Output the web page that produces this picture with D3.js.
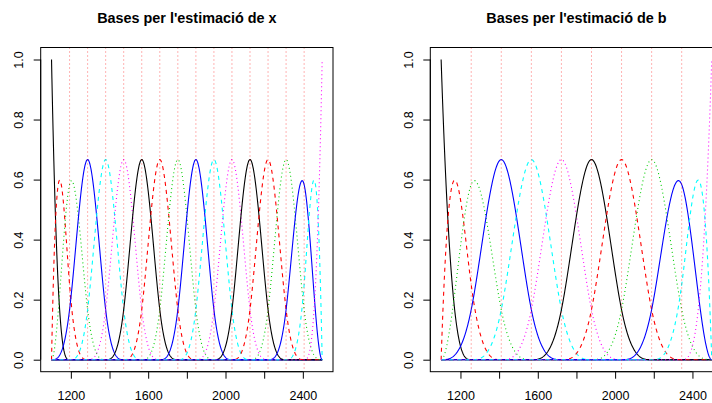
<!DOCTYPE html>
<html>
<head>
<meta charset="utf-8">
<script src="https://cdn.jsdelivr.net/npm/d3@7"></script>
<style>
  html, body { margin: 0; padding: 0; background: #fff; }
  svg { display: block; font-family: "Liberation Sans", Arial, sans-serif; }
</style>
</head>
<body>
<svg id="chart" width="712" height="403"></svg>
<script>
// Domain of the covariate (boundary knots)
const boundary = [1100, 2500];

// Interior knots of the cubic B-spline basis used for x
const knotsX = [1193.3, 1286.7, 1380.0, 1473.3, 1566.7, 1660.0, 1753.3,
                1846.7, 1940.0, 2033.3, 2126.7, 2220.0, 2313.3, 2406.7];

// Interior knots of the cubic B-spline basis used for b
const knotsB = [1255.6, 1411.1, 1566.7, 1722.2, 1877.8, 2033.3, 2188.9, 2344.4];

const panelTitles = ["Bases per l'estimació de x", "Bases per l'estimació de b"];

const xTicks = [1200, 1400, 1600, 1800, 2000, 2200, 2400];
const xTickLabels = ["1200", "", "1600", "", "2000", "", "2400"];
const yTicks = [0, 0.2, 0.4, 0.6, 0.8, 1.0];
const yTickLabels = ["0.0", "0.2", "0.4", "0.6", "0.8", "1.0"];

// matplot-style cycling of colours and line types
const palette = ["#000000", "#ff0000", "#00cd00", "#0000ff", "#00ffff", "#ff00ff"];
const dashes = [null, "4,4", "1,3"];

// Cox–de Boor evaluation of all order-4 B-spline bases at x
function bsplineBasis(x, t, order) {
  const m = t.length;
  let B = new Array(m - 1).fill(0);
  for (let i = 0; i < m - 1; i++) B[i] = (t[i] <= x && x < t[i + 1]) ? 1 : 0;
  if (x >= t[m - 1]) {
    let j = m - 2;
    while (j > 0 && t[j] === t[j + 1]) j--;
    B[j] = 1;
  }
  for (let d = 1; d < order; d++) {
    for (let i = 0; i < m - 1 - d; i++) {
      const d1 = t[i + d] - t[i], d2 = t[i + d + 1] - t[i + 1];
      const a = d1 > 0 ? (x - t[i]) / d1 * B[i] : 0;
      const b = d2 > 0 ? (t[i + d + 1] - x) / d2 * B[i + 1] : 0;
      B[i] = a + b;
    }
  }
  return B.slice(0, m - order);
}

function basisCurves(interior) {
  const [a, b] = boundary;
  const t = [a, a, a, a, ...interior, b, b, b, b];
  const xs = d3.range(a, b, 2).concat([b]);
  const n = t.length - 4;
  const curves = d3.range(n).map(() => []);
  xs.forEach(x => {
    const v = bsplineBasis(x, t, 4);
    v.forEach((val, j) => curves[j].push([x, val]));
  });
  return curves;
}

const svg = d3.select("#chart");

const panels = [
  { left: 40.7, knots: knotsX, title: panelTitles[0] },
  { left: 430.3, knots: knotsB, title: panelTitles[1] }
];
const boxW = 292.3, boxTop = 47.5, boxBottom = 371.7;
const fontFam = "Liberation Sans, Arial, sans-serif";

panels.forEach((p, pi) => {
  const span = boundary[1] - boundary[0];
  const x = d3.scaleLinear()
    .domain([boundary[0] - 0.04 * span, boundary[1] + 0.04 * span])
    .range([p.left, p.left + boxW]);
  const y = d3.scaleLinear()
    .domain([-0.04, 1.04])
    .range([boxBottom, boxTop]);

  const g = svg.append("g");
  const clipId = "clip" + pi;
  g.append("clipPath").attr("id", clipId)
    .append("rect")
    .attr("x", p.left).attr("y", boxTop)
    .attr("width", boxW).attr("height", boxBottom - boxTop);

  const plot = g.append("g").attr("clip-path", `url(#${clipId})`);
  const line = d3.line().x(d => x(d[0])).y(d => y(d[1]));

  basisCurves(p.knots).forEach((c, j) => {
    plot.append("path")
      .attr("d", line(c))
      .attr("fill", "none")
      .attr("stroke", palette[j % palette.length])
      .attr("stroke-width", 1.1)
      .attr("stroke-dasharray", dashes[j % dashes.length]);
  });

  // knot positions
  plot.selectAll("line.knot").data(p.knots).enter().append("line")
    .attr("class", "knot")
    .attr("x1", d => x(d)).attr("x2", d => x(d))
    .attr("y1", boxTop).attr("y2", boxBottom)
    .attr("stroke", "#ff0000")
    .attr("stroke-opacity", 0.6)
    .attr("stroke-width", 1)
    .attr("stroke-dasharray", "1,3");

  // frame
  g.append("rect")
    .attr("x", p.left).attr("y", boxTop)
    .attr("width", boxW).attr("height", boxBottom - boxTop)
    .attr("fill", "none").attr("stroke", "#000").attr("stroke-width", 1);

  // x axis
  const xAxis = d3.axisBottom(x).tickValues(xTicks)
    .tickSize(7).tickPadding(12)
    .tickFormat((d, i) => xTickLabels[i]);
  const xa = g.append("g").attr("transform", `translate(0,${boxBottom})`).call(xAxis);
  xa.select(".domain").attr("d", `M${x(xTicks[0])},0H${x(xTicks[xTicks.length - 1])}`);
  xa.selectAll("text").attr("font-size", 12.5).attr("fill", "#000")
    .attr("font-family", fontFam);

  // y axis
  const yAxis = d3.axisLeft(y).tickValues(yTicks).tickSize(7).tickFormat((d, i) => yTickLabels[i]);
  const ya = g.append("g").attr("transform", `translate(${p.left},0)`).call(yAxis);
  ya.select(".domain").attr("d", `M0,${y(0)}V${y(1)}`);
  ya.selectAll("text")
    .attr("font-size", 12.5).attr("fill", "#000")
    .attr("font-family", fontFam)
    .attr("x", null).attr("dy", null)
    .attr("text-anchor", "middle")
    .attr("transform", "translate(-17.4,0) rotate(-90)");

  // title
  g.append("text")
    .attr("x", p.left + boxW / 2).attr("y", 22.5)
    .attr("text-anchor", "middle")
    .attr("font-family", fontFam)
    .attr("font-size", 14.4).attr("font-weight", "bold")
    .text(p.title);
});
</script>
</body>
</html>
